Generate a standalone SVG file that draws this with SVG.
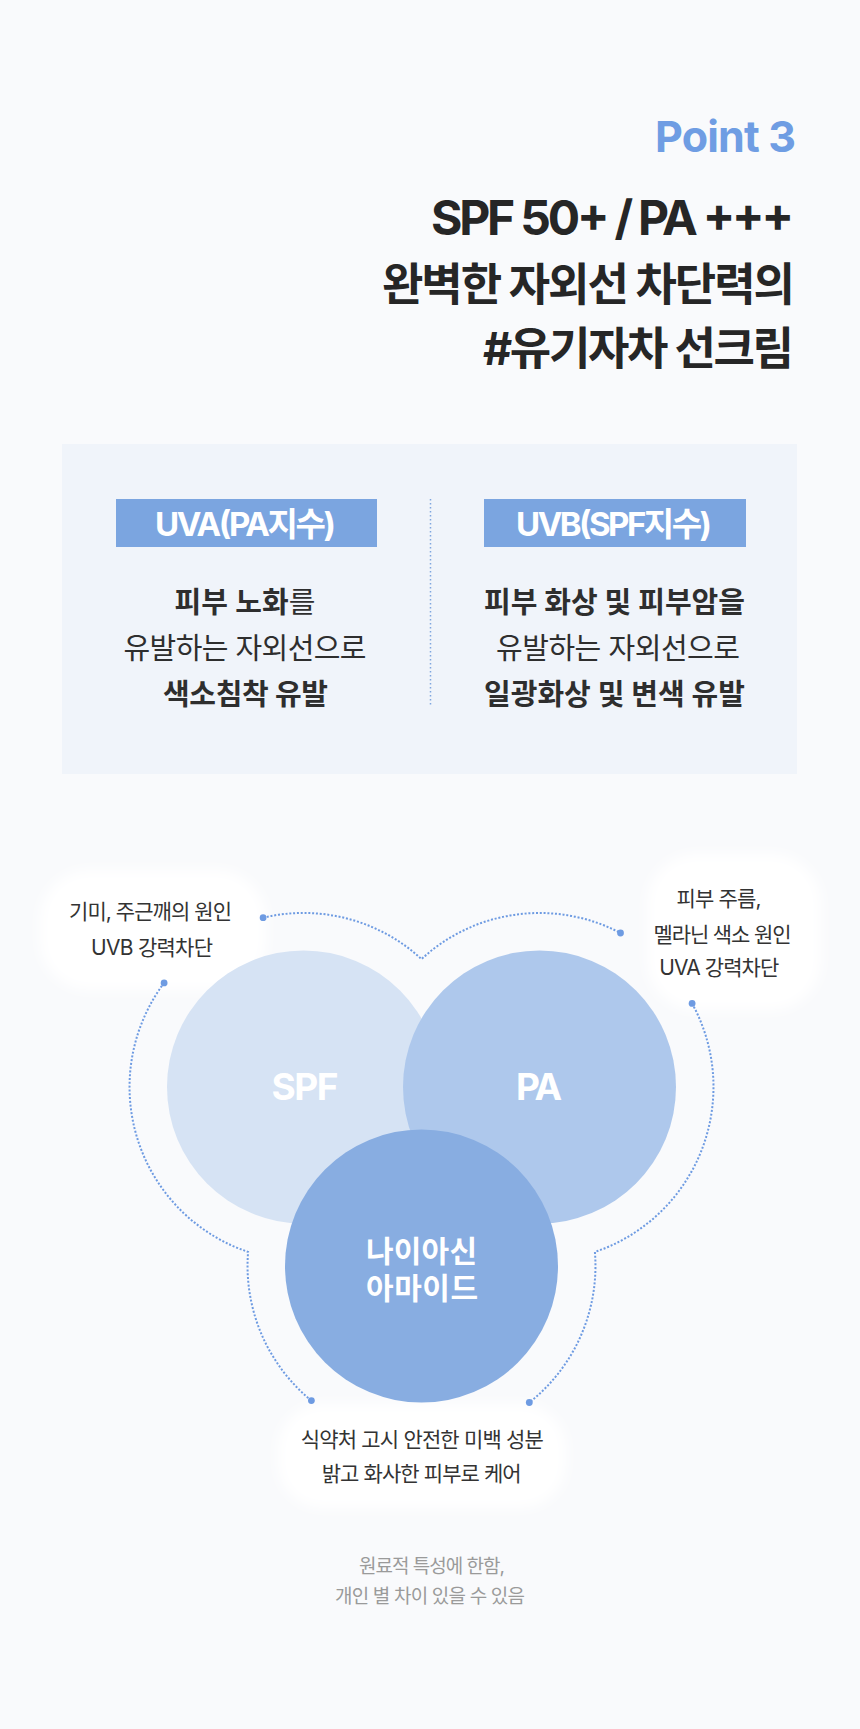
<svg xmlns="http://www.w3.org/2000/svg" width="860" height="1729" viewBox="0 0 860 1729">
  <defs>
    <filter id="soft" x="-20%" y="-20%" width="140%" height="140%">
      <feGaussianBlur in="SourceGraphic" stdDeviation="6"/>
    </filter>
  </defs>
  <style>
    text { font-family: "Inter", "Noto Sans CJK KR", sans-serif; }
    .b { font-weight: 700; }
    .r { font-weight: 400; }
    .title { fill: #262626; font-weight: 700; }
    .tag { fill: #ffffff; font-weight: 700; font-size: 33px; }
    .body { fill: #2e2e2e; font-size: 29px; }
    .lab { fill: #333333; font-size: 21px; font-weight: 400; }
    .foot { fill: #9a9a9a; font-size: 19px; font-weight: 400; }
    .ctr { fill: #ffffff; font-weight: 700; }
    .dot-line { fill: none; stroke: #6E9BE2; stroke-width: 2; stroke-dasharray: 2 1.8; }
    .end { fill: #6E9BE2; }
    .bubble { fill: #ffffff; filter: url(#soft); }
  </style>

  <rect width="860" height="1729" fill="#F9FAFC"/>

  <g id="header">
    <text x="796" y="151.5" text-anchor="end" class="b" font-size="43" fill="#6F9DE3" textLength="141">Point 3</text>
    <text x="794" y="235" text-anchor="end" class="title" font-size="48" textLength="363">SPF 50+ / PA +++</text>
    <text x="795" y="301" text-anchor="end" class="title" font-size="45" textLength="413">완벽한 자외선 차단력의</text>
    <text x="794" y="365" text-anchor="end" class="title" font-size="45" textLength="311">#유기자차 선크림</text>
  </g>

  <g id="uv-panel">
    <rect x="62" y="444" width="735" height="330" fill="#F0F4FA"/>
    <line x1="430.5" y1="499" x2="430.5" y2="707" stroke="#7FA6DF" stroke-width="1.5" stroke-dasharray="1.5 2.5"/>
  </g>

  <g id="uva">
    <rect x="116" y="499" width="261" height="48" fill="#7BA5E0"/>
    <text x="245.5" y="536" text-anchor="middle" class="tag" textLength="181">UVA(PA지수)</text>
    <text x="245" y="613" text-anchor="middle" class="body" textLength="141"><tspan class="b">피부 노화</tspan><tspan class="r">를</tspan></text>
    <text x="245" y="659" text-anchor="middle" class="body r" textLength="243">유발하는 자외선으로</text>
    <text x="245.5" y="705" text-anchor="middle" class="body b" textLength="165">색소침착 유발</text>
  </g>

  <g id="uvb">
    <rect x="484" y="499" width="262" height="48" fill="#7BA5E0"/>
    <text x="614" y="536" text-anchor="middle" class="tag" textLength="196">UVB(SPF지수)</text>
    <text x="614.5" y="613" text-anchor="middle" class="body b" textLength="261">피부 화상 및 피부암을</text>
    <text x="618" y="659" text-anchor="middle" class="body r" textLength="244">유발하는 자외선으로</text>
    <text x="614.5" y="705" text-anchor="middle" class="body b" textLength="261">일광화상 및 변색 유발</text>
  </g>

  <g id="bubble-spf">
    <rect x="40" y="870" width="226" height="120" rx="50" class="bubble"/>
    <text x="150.5" y="919" text-anchor="middle" class="lab" textLength="163">기미, 주근깨의 원인</text>
    <text x="152" y="955" text-anchor="middle" class="lab" textLength="122">UVB 강력차단</text>
  </g>

  <g id="bubble-pa">
    <rect x="647" y="854" width="174" height="156" rx="50" class="bubble"/>
    <text x="719" y="906" text-anchor="middle" class="lab" textLength="85">피부 주름,</text>
    <text x="722.5" y="942" text-anchor="middle" class="lab" textLength="138">멜라닌 색소 원인</text>
    <text x="719.3" y="975" text-anchor="middle" class="lab" textLength="120">UVA 강력차단</text>
  </g>

  <g id="bubble-niacinamide">
    <rect x="278" y="1404" width="288" height="104" rx="45" class="bubble"/>
    <text x="422.3" y="1447" text-anchor="middle" class="lab" textLength="243">식약처 고시 안전한 미백 성분</text>
    <text x="421.7" y="1481" text-anchor="middle" class="lab" textLength="200">밝고 화사한 피부로 케어</text>
  </g>

  <g id="circle-spf">
    <circle cx="303.5" cy="1087" r="136.5" fill="#D6E3F4"/>
    <text x="305" y="1100" text-anchor="middle" class="ctr" font-size="37" textLength="67">SPF</text>
  </g>

  <g id="circle-pa">
    <circle cx="539.5" cy="1087" r="136.5" fill="#AEC8EC"/>
    <text x="539" y="1100" text-anchor="middle" class="ctr" font-size="37" textLength="46">PA</text>
  </g>

  <g id="circle-niacinamide">
    <circle cx="421.5" cy="1266" r="136.5" fill="#88ADE1"/>
    <text x="421.5" y="1262" text-anchor="middle" class="ctr" font-size="30" textLength="111">나이아신</text>
    <text x="422" y="1299" text-anchor="middle" class="ctr" font-size="30" textLength="112">아마이드</text>
  </g>

  <g id="connectors">
    <path class="dot-line" d="M263.1,917.7 A174,174 0 0 1 421.5,959.1 A174,174 0 0 1 620.5,933"/>
    <path class="dot-line" d="M692.1,1003.4 A174,174 0 0 1 594.9,1251.9 A174,174 0 0 1 529.3,1402.5"/>
    <path class="dot-line" d="M164.1,982.9 A174,174 0 0 0 248.1,1251.9 A174,174 0 0 0 311.4,1400.6"/>
    <circle class="end" cx="263.1" cy="917.7" r="3.4"/>
    <circle class="end" cx="620.5" cy="933" r="3.4"/>
    <circle class="end" cx="692.1" cy="1003.4" r="3.4"/>
    <circle class="end" cx="529.3" cy="1402.5" r="3.4"/>
    <circle class="end" cx="164.1" cy="982.9" r="3.4"/>
    <circle class="end" cx="311.4" cy="1400.6" r="3.4"/>
  </g>

  <g id="footnote">
    <text x="432" y="1573" text-anchor="middle" class="foot" textLength="146">원료적 특성에 한함,</text>
    <text x="430" y="1603" text-anchor="middle" class="foot" textLength="190">개인 별 차이 있을 수 있음</text>
  </g>
</svg>
